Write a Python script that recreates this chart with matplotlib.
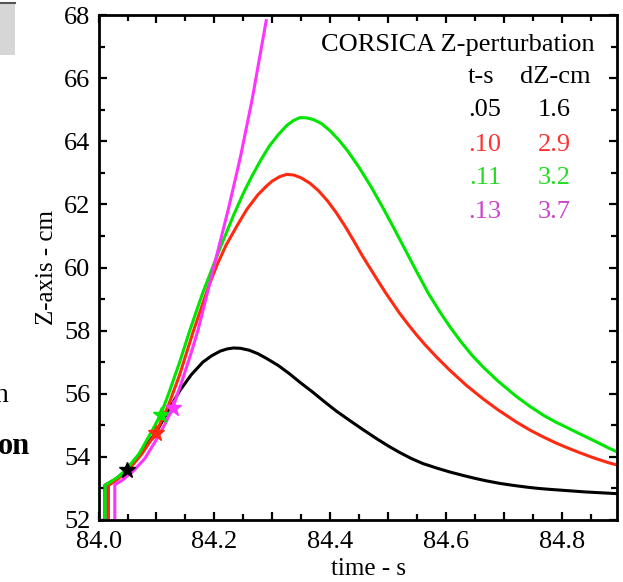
import matplotlib
matplotlib.use('Agg')
import matplotlib.pyplot as plt
from matplotlib.patches import Rectangle
from matplotlib.ticker import MultipleLocator

plt.rcParams['font.family'] = ['Liberation Serif', 'DejaVu Serif']

# CORSICA Z-perturbation runs: time (s) and Z position (cm)
t_black = [84.011, 84.011, 84.03, 84.0485, 84.07, 84.10, 84.12, 84.14, 84.16, 84.18, 84.195,
           84.21, 84.222, 84.233, 84.245, 84.26, 84.275, 84.29, 84.31, 84.33, 84.348, 84.37,
           84.39, 84.41, 84.434, 84.457, 84.48, 84.50, 84.52, 84.54, 84.56, 84.585,
           84.607, 84.63, 84.65, 84.67, 84.693, 84.715, 84.74, 84.76, 84.78, 84.81, 84.84,
           84.87, 84.9]
z_black = [51.5, 53.1, 53.3, 53.59, 54.05, 54.8, 55.45, 56.09, 56.6, 57.0, 57.2,
           57.35, 57.42, 57.45, 57.44, 57.38, 57.27, 57.12, 56.9, 56.63, 56.36, 56.05,
           55.75, 55.46, 55.15, 54.86, 54.58, 54.35, 54.14, 53.95, 53.79, 53.64,
           53.52, 53.41, 53.32, 53.24, 53.16, 53.1, 53.04, 53.0, 52.97, 52.93, 52.89,
           52.86, 52.83]

t_red = [84.017, 84.017, 84.03, 84.05, 84.075, 84.099, 84.12, 84.14, 84.164, 84.19, 84.205,
         84.22, 84.24, 84.256, 84.275, 84.29, 84.30, 84.313, 84.325, 84.337, 84.35, 84.365,
         84.38, 84.395, 84.41, 84.425, 84.44, 84.455, 84.475, 84.495, 84.52, 84.535,
         84.549, 84.565, 84.585, 84.607, 84.635, 84.664, 84.69, 84.722, 84.745, 84.765,
         84.79, 84.808, 84.83, 84.855, 84.88, 84.9]
z_red = [51.5, 53.1, 53.25, 53.55, 54.1, 54.77, 55.6, 56.6, 58.0, 59.4, 60.1,
         60.7, 61.35, 61.84, 62.3, 62.58, 62.74, 62.88, 62.95, 62.93, 62.84, 62.67,
         62.43, 62.12, 61.75, 61.33, 60.87, 60.39, 59.8, 59.22, 58.55, 58.19,
         57.87, 57.53, 57.14, 56.74, 56.27, 55.84, 55.49, 55.1, 54.85, 54.66,
         54.44, 54.3, 54.14, 53.97, 53.82, 53.72]

t_green = [84.011, 84.011, 84.02, 84.035, 84.05, 84.07, 84.09, 84.107, 84.12, 84.14, 84.158,
           84.18, 84.20, 84.215, 84.233, 84.25, 84.265, 84.28, 84.295, 84.31, 84.325, 84.337,
           84.348, 84.36, 84.372, 84.385, 84.40, 84.415, 84.43, 84.45, 84.47, 84.49, 84.51,
           84.53, 84.55, 84.57, 84.59, 84.607, 84.625, 84.645, 84.664, 84.69, 84.722, 84.745,
           84.77, 84.79, 84.808, 84.83, 84.855, 84.88, 84.9]
z_green = [51.5, 53.1, 53.2, 53.38, 53.65, 54.1, 54.75, 55.33, 55.95, 57.0, 58.03,
           59.2, 60.15, 60.85, 61.65, 62.35, 62.9, 63.4, 63.85, 64.2, 64.5, 64.66,
           64.75, 64.74, 64.68, 64.56, 64.33, 64.04, 63.7, 63.17, 62.58, 61.93, 61.25,
           60.55, 59.85, 59.17, 58.58, 58.12, 57.67, 57.22, 56.85, 56.4, 55.91, 55.6,
           55.3, 55.1, 54.94, 54.74, 54.52, 54.29, 54.12]

t_mag = [84.028, 84.028, 84.04, 84.06, 84.08, 84.10, 84.115, 84.128, 84.145, 84.16, 84.172,
         84.19, 84.207, 84.224, 84.245, 84.265, 84.29]
z_mag = [51.5, 53.12, 53.25, 53.55, 53.95, 54.55, 55.05, 55.55, 56.45, 57.3, 58.03,
         59.35, 60.6, 61.84, 63.5, 65.3, 67.87]

# perturbation start markers
star_t = [84.0485, 84.099, 84.107, 84.128]
star_z = [53.59, 54.77, 55.33, 55.55]

ts_labels = ['.05', '.10', '.11', '.13']
dz_labels = ['1.6', '2.9', '3.2', '3.7']
line_colors = ['black', '#ff2a10', '#00e600', '#ff33ff']
text_colors = ['black', '#ff3333', '#22dd22', '#cc44cc']

fig = plt.figure(figsize=(6.23, 5.82), dpi=100)
ax = fig.add_axes([98.6 / 623, 1 - 520 / 582, (616.7 - 98.6) / 623, (520 - 15) / 582])

series = [(t_black, z_black), (t_red, z_red), (t_green, z_green), (t_mag, z_mag)]
for (t, z), c in zip(series, line_colors):
    ax.plot(t, z, color=c, lw=2.2, solid_joinstyle='round', solid_capstyle='butt')
for i in range(4):
    ax.plot(star_t[i], star_z[i], marker='*', ms=12, color=line_colors[i], mec=line_colors[i], zorder=5)

ax.set_xlim(84.0, 84.895)
ax.set_ylim(52, 68)
ax.xaxis.set_minor_locator(MultipleLocator(0.05))
ax.set_xticks([84.0, 84.1, 84.2, 84.3, 84.4, 84.5, 84.6, 84.7, 84.8])
ax.set_xticklabels(['84.0', '', '84.2', '', '84.4', '', '84.6', '', '84.8'])
ax.yaxis.set_major_locator(MultipleLocator(2))
ax.yaxis.set_minor_locator(MultipleLocator(1))
ax.tick_params(which='both', direction='in', top=True, right=True, width=1.6, labelsize=19)
ax.tick_params(which='major', length=6)
ax.tick_params(which='minor', length=4.5)
ax.tick_params(axis='x', pad=8)
ax.tick_params(axis='y', pad=6)
for s in ax.spines.values():
    s.set_linewidth(2)

fig.text(47 / 623, 1 - 268 / 582, 'Z-axis - cm', rotation=90, ha='center', va='center', fontsize=18)
fig.text(368 / 623, 1 - 569 / 582, 'time - s', ha='center', va='center', fontsize=18)

ax.text(0.958, 0.94, 'CORSICA Z-perturbation', transform=ax.transAxes, ha='right', va='center', fontsize=19)
ax.text(0.738, 0.877, 't-s', transform=ax.transAxes, ha='center', va='center', fontsize=19)
ax.text(0.881, 0.877, 'dZ-cm', transform=ax.transAxes, ha='center', va='center', fontsize=19)
rows_y = [0.812, 0.743, 0.677, 0.610]
for i in range(4):
    ax.text(0.746, rows_y[i], ts_labels[i], transform=ax.transAxes, ha='center', va='center',
            fontsize=19, color=text_colors[i])
    ax.text(0.879, rows_y[i], dz_labels[i], transform=ax.transAxes, ha='center', va='center',
            fontsize=19, color=text_colors[i])

# pieces of the slide cut off on the left
fig.patches.append(Rectangle((0, 1 - 55 / 582), 15 / 623, 52 / 582, transform=fig.transFigure,
                             facecolor='#d6d6d6', edgecolor='none'))
fig.lines.append(plt.Line2D([0, 15 / 623], [1 - 3 / 582, 1 - 3 / 582], transform=fig.transFigure,
                            color='#555555', lw=1.5))
fig.text(-6 / 623, 1 - 396 / 582, 'n', ha='left', va='center', fontsize=20)
fig.text(-2 / 623, 1 - 446 / 582, 'on', ha='left', va='center', fontsize=22, fontweight='bold')

fig.savefig('out.png', dpi=100)
